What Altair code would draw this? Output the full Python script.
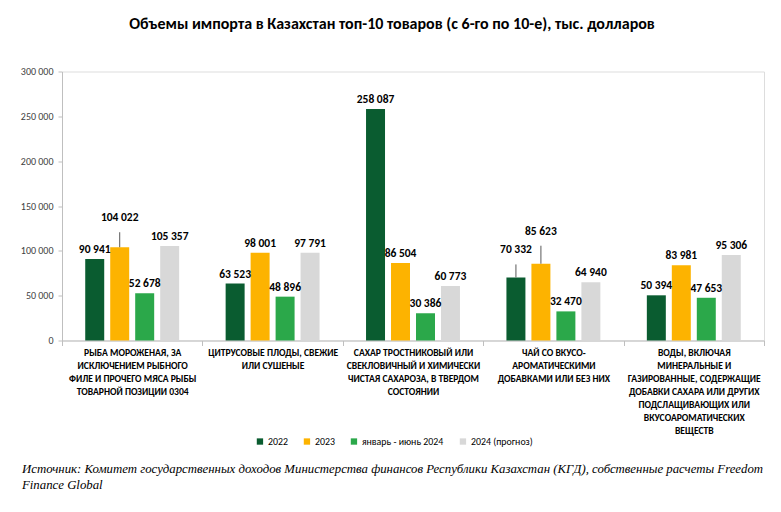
import altair as alt
import pandas as pd

categories = [
    "РЫБА МОРОЖЕНАЯ, ЗА|ИСКЛЮЧЕНИЕМ РЫБНОГО|ФИЛЕ И ПРОЧЕГО МЯСА РЫБЫ|ТОВАРНОЙ ПОЗИЦИИ 0304",
    "ЦИТРУСОВЫЕ ПЛОДЫ, СВЕЖИЕ|ИЛИ СУШЕНЫЕ",
    "САХАР ТРОСТНИКОВЫЙ ИЛИ|СВЕКЛОВИЧНЫЙ И ХИМИЧЕСКИ|ЧИСТАЯ САХАРОЗА, В ТВЕРДОМ|СОСТОЯНИИ",
    "ЧАЙ СО ВКУСО-|АРОМАТИЧЕСКИМИ|ДОБАВКАМИ ИЛИ БЕЗ НИХ",
    "ВОДЫ, ВКЛЮЧАЯ|МИНЕРАЛЬНЫЕ И|ГАЗИРОВАННЫЕ, СОДЕРЖАЩИЕ|ДОБАВКИ САХАРА ИЛИ ДРУГИХ|ПОДСЛАЩИВАЮЩИХ ИЛИ|ВКУСОАРОМАТИЧЕСКИХ|ВЕЩЕСТВ",
]
series = ["2022", "2023", "январь - июнь 2024", "2024 (прогноз)"]
v2022 = [90941, 63523, 258087, 70332, 50394]
v2023 = [104022, 98001, 86504, 85623, 83981]
vh2024 = [52678, 48896, 30386, 32470, 47653]
vf2024 = [105357, 97791, 60773, 64940, 95306]
colors = ["#0A5C30", "#FDB300", "#2BA84A", "#D8D8D8"]

title_text = "Объемы импорта в Казахстан топ-10 товаров (с 6-го по 10-е), тыс. долларов"
source_1 = ("Источник: Комитет государственных доходов Министерства финансов Республики "
            "Казахстан (КГД), собственные расчеты Freedom")
source_2 = "Finance Global"

# labels lifted with a leader line (pixels)
callouts = {(0, "2023"): 20, (3, "2022"): 18, (3, "2023"): 23}

W, H, YMAX = 702, 269, 300000
px = YMAX / H

rows = []
for si, (s, vals) in enumerate(zip(series, [v2022, v2023, vh2024, vf2024])):
    for ci, (c, v) in enumerate(zip(categories, vals)):
        lift = callouts.get((ci, s), 0)
        rows.append({
            "cat": c, "series": s, "value": v, "si": si,
            "label": f"{v:,}".replace(",", " "),
            "label_y": v + lift * px,
            "lead_top": v + (lift - 5) * px if lift else v,
            "lead": lift > 0,
        })
df = pd.DataFrame(rows)

SANS = "Carlito"

x = alt.X("cat:N", sort=categories, title=None,
          scale=alt.Scale(paddingInner=0, paddingOuter=0),
          axis=alt.Axis(labelExpr="split(datum.label, '|')", labelAngle=0,
                        tickBand="extent", tickSize=5, labelPadding=2,
                        labelFont=SANS, labelFontWeight="bold", labelFontSize=9.6,
                        labelLineHeight=13, labelColor="#000000", labelLimit=300,
                        domainColor="#BFBFBF", tickColor="#BFBFBF", labelBaseline="top"))
xo = alt.XOffset("series:N", sort=series,
                 scale=alt.Scale(paddingInner=0.24, paddingOuter=0.93))
y_scale = alt.Scale(domain=[0, YMAX], nice=False)

bars = alt.Chart(df).mark_bar().encode(
    x=x, xOffset=xo,
    y=alt.Y("value:Q", scale=y_scale, title=None,
            axis=alt.Axis(values=[0, 50000, 100000, 150000, 200000, 250000, 300000],
                          labelExpr="replace(format(datum.value, ','), ',', ' ')",
                          grid=False, tickSize=4, labelPadding=5,
                          labelFont=SANS, labelFontSize=10, labelColor="#404040",
                          domainColor="#BFBFBF", tickColor="#BFBFBF")),
    color=alt.Color("series:N", sort=series,
                    scale=alt.Scale(domain=series, range=colors),
                    legend=alt.Legend(title=None, orient="none", direction="horizontal",
                                      legendX=193, legendY=365, symbolType="square",
                                      symbolSize=40, symbolStrokeWidth=0,
                                      labelFont=SANS, labelFontSize=9.9,
                                      labelColor="#000000", labelOffset=3,
                                      columnPadding=14)),
)

leads = alt.Chart(df).transform_filter("datum.lead").mark_rule(
    color="#595959", strokeWidth=1).encode(
    x=x, xOffset=xo, y=alt.Y("value:Q", scale=y_scale), y2="lead_top:Q")

labels = alt.Chart(df).mark_text(
    baseline="alphabetic", dy=-6, font=SANS, fontWeight="bold", fontSize=11.5,
    color="#000000").encode(
    x=x, xOffset=xo, y=alt.Y("label_y:Q", scale=y_scale), text="label:N")

src1 = alt.Chart(pd.DataFrame({"t": [source_1]})).mark_text(
    align="left", baseline="alphabetic", font="Liberation Serif", fontStyle="italic",
    fontSize=12.8, color="#000000").encode(x=alt.value(-40), y=alt.value(401), text="t:N")
src2 = alt.Chart(pd.DataFrame({"t": [source_2]})).mark_text(
    align="left", baseline="alphabetic", font="Liberation Serif", fontStyle="italic",
    fontSize=12.8, color="#000000").encode(x=alt.value(-40), y=alt.value(417), text="t:N")

chart = alt.layer(bars, leads, labels, src1, src2).properties(
    width=W, height=H,
    title=alt.TitleParams(title_text, font=SANS,
                          fontSize=16, fontWeight="bold", anchor="middle", dx=-21,
                          offset=35, color="#000000"),
    autosize=alt.AutoSizeParams(type="none"),
    padding={"left": 54, "top": 63.5, "right": 9, "bottom": 163},
).configure_view(stroke=None).configure(background="white")

chart.save("out.html", embed_options={"renderer": "svg", "actions": False})
